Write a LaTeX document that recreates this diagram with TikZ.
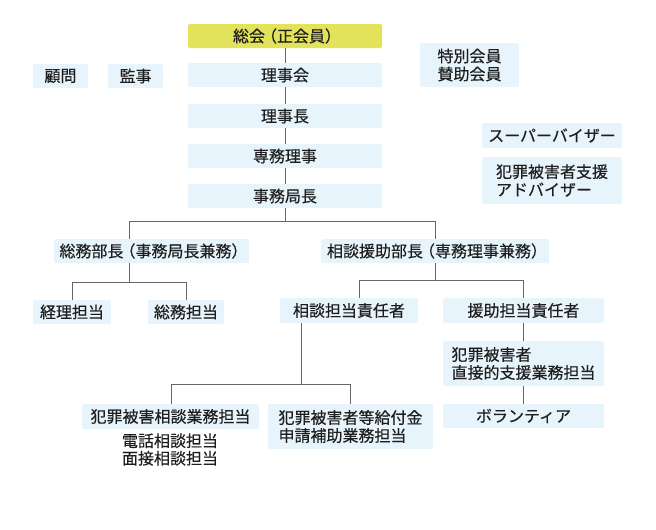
\documentclass[tikz,border=0pt]{standalone}
\usepackage{fontspec}
\setmainfont{Noto Sans CJK JP}[FakeBold=0.4]
\definecolor{boxblue}{HTML}{E8F4FC}
\definecolor{boxyellow}{HTML}{E2E35A}
\definecolor{linegray}{HTML}{666666}
\definecolor{txt}{HTML}{1E1E1E}
\newcommand{\myLP}{\kern-4pt（}
\newcommand{\myRP}{）\kern-4pt}
\begin{document}
\begin{tikzpicture}[x=1pt,y=-1pt,
  bx/.style={fill=boxblue, draw=none, rounded corners=1.5pt, inner sep=0pt, text=txt,
    font=\fontsize{16}{18}\selectfont},
  ybx/.style={bx, fill=boxyellow},
  conn/.style={draw=linegray, line width=1pt},
  plain/.style={inner sep=0pt, text=txt, font=\fontsize{16}{17.5}\selectfont}]
\useasboundingbox (0,0) rectangle (656,530);
% central column
\node[ybx, minimum width=194pt, minimum height=24pt] (top) at (285,36) {総会\myLP 正会員\myRP};
\node[bx, minimum width=194pt, minimum height=24pt] (rijikai) at (285,75) {理事会};
\node[bx, minimum width=194pt, minimum height=24pt] (rijicho) at (285,116) {理事長};
\node[bx, minimum width=194pt, minimum height=24pt] (senmu) at (285,156) {専務理事};
\node[bx, minimum width=194pt, minimum height=24pt] (jimu) at (285,196) {事務局長};
% side boxes
\node[bx, minimum width=55pt, minimum height=24pt] (komon) at (60.5,76) {顧問};
\node[bx, minimum width=55pt, minimum height=24pt] (kanji) at (135.5,76) {監事};
\node[bx, minimum width=99pt, minimum height=44pt, align=center] (toku) at (469.5,65) {特別会員\\賛助会員};
\node[bx, minimum width=140pt, minimum height=25pt] (super) at (552,135.5) {スーパーバイザー};
\node[bx, minimum width=140pt, minimum height=47pt, align=left] (adv) at (552,180.5) {犯罪被害者支援\\アドバイザー};
% second level
\node[bx, minimum width=195pt, minimum height=24pt] (somubu) at (151.5,251) {総務部長\myLP 事務局長兼務\myRP};
\node[bx, minimum width=228pt, minimum height=24pt] (sodanbu) at (435,251) {相談援助部長\myLP 専務理事兼務\myRP};
% third level
\node[bx, minimum width=78pt, minimum height=24pt] (keiri) at (72,312) {経理担当};
\node[bx, minimum width=76pt, minimum height=24pt] (somut) at (186,312) {総務担当};
\node[bx, minimum width=138pt, minimum height=25pt] (sodanseki) at (349,310.5) {相談担当責任者};
\node[bx, minimum width=161pt, minimum height=25pt] (enjoseki) at (523.5,310.5) {援助担当責任者};
\node[bx, minimum width=161pt, minimum height=45pt, align=left] (choku) at (523.5,363.5) {犯罪被害者\\直接的支援業務担当};
\node[bx, minimum width=161pt, minimum height=24pt] (vol) at (523.5,416) {ボランティア};
\node[bx, minimum width=177pt, minimum height=25pt] (hsodan) at (170.5,416.5) {犯罪被害相談業務担当};
\node[bx, minimum width=165pt, minimum height=45pt, align=left] (kyufu) at (350.5,426.5) {犯罪被害者等給付金\\申請補助業務担当};
\node[plain, align=center] (denwa) at (170,449.5) {電話相談担当\\面接相談担当};
% connectors
\draw[conn] (top.south) -- (rijikai.north);
\draw[conn] (rijikai.south) -- (rijicho.north);
\draw[conn] (rijicho.south) -- (senmu.north);
\draw[conn] (senmu.south) -- (jimu.north);
\coordinate (j1) at (129,221);
\coordinate (j2) at (435,221);
\draw[conn] (jimu.south) -- (jimu.south |- j1);
\draw[conn] (somubu.north -| j1) -- (j1) -- (j2) -- (sodanbu.north);
\coordinate (s0) at (129,282);
\coordinate (s1) at (72,282);
\coordinate (s2) at (186,282);
\draw[conn] (somubu.south -| s0) -- (s0);
\draw[conn] (keiri.north -| s1) -- (s1) -- (s2) -- (somut.north -| s2);
\coordinate (r1) at (359,280);
\coordinate (r2) at (523.5,280);
\draw[conn] (sodanbu.south) -- (sodanbu.south |- r1);
\draw[conn] (sodanseki.north -| r1) -- (r1) -- (r2) -- (enjoseki.north);
\coordinate (t0) at (301,384);
\coordinate (t1) at (171,384);
\coordinate (t2) at (350.5,384);
\draw[conn] (sodanseki.south -| t0) -- (t0);
\draw[conn] (hsodan.north -| t1) -- (t1) -- (t2) -- (kyufu.north);
\draw[conn] (enjoseki.south) -- (choku.north);
\draw[conn] (choku.south) -- (vol.north);
\end{tikzpicture}
\end{document}
